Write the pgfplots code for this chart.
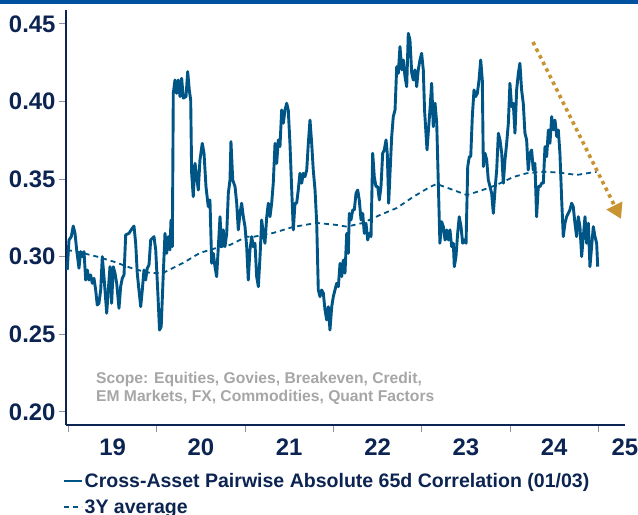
\documentclass[border=0pt]{standalone}
\usepackage{fontspec}
\setmainfont{Liberation Sans}
\usepackage{pgfplots}
\usepackage{pgfplotstable}
\pgfplotsset{compat=1.18}
\usetikzlibrary{arrows.meta}

\definecolor{lineblue}{RGB}{0,85,135}
\definecolor{navy}{RGB}{12,36,82}
\definecolor{topbar}{RGB}{0,82,160}
\definecolor{scopegray}{RGB}{166,166,166}
\definecolor{gold}{RGB}{200,148,50}
\definecolor{tickgray}{RGB}{140,145,160}

% Cross-asset pairwise absolute 65d correlation
\pgfplotstableread{
x y
2018.986 0.2915
2019.006 0.3108
2019.032 0.3130
2019.054 0.3198
2019.074 0.3151
2019.093 0.3044
2019.119 0.2926
2019.138 0.3033
2019.156 0.3001
2019.176 0.3033
2019.195 0.2850
2019.213 0.2915
2019.232 0.2850
2019.251 0.2883
2019.270 0.2829
2019.289 0.2861
2019.308 0.2786
2019.326 0.2689
2019.345 0.2700
2019.365 0.2786
2019.383 0.3001
2019.402 0.2872
2019.433 0.2636
2019.451 0.2786
2019.470 0.2936
2019.489 0.2700
2019.507 0.2936
2019.527 0.2894
2019.546 0.2829
2019.572 0.2668
2019.591 0.2808
2019.609 0.2861
2019.629 0.2883
2019.648 0.3141
2019.685 0.3151
2019.723 0.3184
2019.742 0.3198
2019.761 0.3087
2019.779 0.2894
2019.798 0.2786
2019.818 0.2678
2019.836 0.2786
2019.855 0.2915
2019.874 0.2850
2019.892 0.2926
2019.912 0.2947
2019.931 0.3108
2019.968 0.3130
2019.988 0.3044
2020.012 0.2767
2020.031 0.2528
2020.050 0.2550
2020.074 0.2894
2020.093 0.3151
2020.112 0.3022
2020.130 0.3130
2020.149 0.3044
2020.161 0.3237
2020.176 0.3065
2020.187 0.4053
2020.206 0.4139
2020.225 0.4053
2020.243 0.4139
2020.263 0.4032
2020.282 0.4150
2020.300 0.4022
2020.331 0.4032
2020.350 0.4193
2020.368 0.4075
2020.384 0.4010
2020.395 0.3538
2020.413 0.3387
2020.433 0.3602
2020.452 0.3516
2020.470 0.3430
2020.489 0.3624
2020.515 0.3731
2020.535 0.3667
2020.557 0.3452
2020.583 0.3323
2020.602 0.3366
2020.622 0.2958
2020.640 0.3022
2020.659 0.2936
2020.678 0.2872
2020.697 0.3065
2020.716 0.3258
2020.735 0.3065
2020.753 0.3173
2020.772 0.3065
2020.792 0.3151
2020.810 0.3409
2020.829 0.3495
2020.840 0.3742
2020.860 0.3495
2020.886 0.3452
2020.905 0.3345
2020.923 0.3173
2020.942 0.3280
2020.961 0.3345
2020.980 0.3258
2020.999 0.3194
2021.018 0.3065
2021.036 0.2850
2021.055 0.3044
2021.075 0.3130
2021.093 0.3065
2021.112 0.3087
2021.131 0.2872
2021.150 0.2807
2021.169 0.3001
2021.188 0.3237
2021.206 0.3151
2021.225 0.3087
2021.245 0.3258
2021.263 0.3345
2021.282 0.3258
2021.301 0.3345
2021.319 0.3474
2021.339 0.3731
2021.358 0.3602
2021.376 0.3753
2021.395 0.3710
2021.414 0.3946
2021.433 0.3860
2021.452 0.3946
2021.471 0.3989
2021.489 0.3946
2021.508 0.3731
2021.528 0.3430
2021.546 0.3173
2021.565 0.3345
2021.584 0.3345
2021.602 0.3430
2021.621 0.3538
2021.641 0.3474
2021.659 0.3538
2021.678 0.3516
2021.698 0.3559
2021.716 0.3731
2021.735 0.3881
2021.754 0.3731
2021.772 0.3559
2021.792 0.3430
2021.811 0.3216
2021.829 0.2786
2021.848 0.2743
2021.867 0.2786
2021.886 0.2765
2021.905 0.2657
2021.924 0.2593
2021.942 0.2678
2021.961 0.2528
2021.981 0.2678
2021.999 0.2743
2022.018 0.2786
2022.037 0.2829
2022.056 0.2807
2022.075 0.2958
2022.094 0.2872
2022.112 0.2979
2022.131 0.2894
2022.151 0.3151
2022.169 0.3022
2022.180 0.3280
2022.199 0.3237
2022.219 0.3302
2022.237 0.3302
2022.256 0.3409
2022.275 0.3430
2022.293 0.3366
2022.313 0.3237
2022.332 0.3280
2022.350 0.3151
2022.369 0.3216
2022.388 0.3108
2022.407 0.3151
2022.426 0.3130
2022.445 0.3667
2022.463 0.3516
2022.482 0.3452
2022.502 0.3452
2022.520 0.3366
2022.539 0.3452
2022.558 0.3667
2022.576 0.3688
2022.596 0.3753
2022.610 0.3667
2022.626 0.3345
2022.641 0.3538
2022.660 0.3774
2022.678 0.3903
2022.698 0.3946
2022.717 0.4225
2022.735 0.4182
2022.754 0.4354
2022.774 0.4204
2022.792 0.4268
2022.811 0.4160
2022.830 0.4096
2022.848 0.4440
2022.867 0.4397
2022.887 0.4182
2022.905 0.4139
2022.924 0.4204
2022.943 0.4096
2022.961 0.4204
2022.980 0.4268
2022.999 0.4311
2023.018 0.4204
2023.032 0.3946
2023.060 0.3688
2023.093 0.3946
2023.113 0.4118
2023.131 0.3838
2023.151 0.3989
2023.170 0.3860
2023.188 0.3474
2023.206 0.3087
2023.226 0.3226
2023.245 0.3194
2023.264 0.3108
2023.283 0.3173
2023.302 0.3108
2023.320 0.3173
2023.339 0.3065
2023.358 0.3087
2023.369 0.2936
2023.388 0.3001
2023.407 0.3151
2023.425 0.3258
2023.445 0.3194
2023.464 0.3087
2023.482 0.3108
2023.502 0.3087
2023.521 0.3581
2023.539 0.3645
2023.555 0.3645
2023.573 0.3903
2023.592 0.4075
2023.611 0.4032
2023.630 0.4053
2023.649 0.4139
2023.668 0.4268
2023.686 0.4139
2023.698 0.3581
2023.717 0.3667
2023.736 0.3624
2023.754 0.3495
2023.773 0.3452
2023.792 0.3409
2023.811 0.3280
2023.830 0.3430
2023.849 0.3559
2023.868 0.3796
2023.886 0.3753
2023.906 0.3667
2023.924 0.3474
2023.943 0.3624
2023.962 0.3731
2023.981 0.3860
2023.999 0.4118
2024.018 0.3967
2024.037 0.3989
2024.056 0.3796
2024.075 0.4075
2024.094 0.4182
2024.112 0.4247
2024.131 0.4075
2024.150 0.3989
2024.169 0.3796
2024.188 0.3753
2024.206 0.3559
2024.225 0.3667
2024.245 0.3688
2024.263 0.3559
2024.282 0.3602
2024.301 0.3258
2024.320 0.3452
2024.339 0.3452
2024.358 0.3474
2024.377 0.3474
2024.396 0.3710
2024.415 0.3645
2024.434 0.3817
2024.452 0.3731
2024.472 0.3903
2024.490 0.3817
2024.509 0.3881
2024.529 0.3774
2024.547 0.3817
2024.565 0.3667
2024.585 0.3366
2024.603 0.3130
2024.622 0.3216
2024.641 0.3258
2024.660 0.3280
2024.678 0.3302
2024.698 0.3345
2024.716 0.3323
2024.735 0.3216
2024.754 0.3130
2024.773 0.3258
2024.792 0.3194
2024.811 0.3001
2024.830 0.3130
2024.849 0.3258
2024.868 0.3087
2024.887 0.3216
2024.905 0.2936
2024.924 0.3065
2024.943 0.3194
2024.962 0.3130
2024.981 0.3087
2024.993 0.2936
}\corr

% 3Y average
\pgfplotstableread{
x y
2018.983 0.3044
2019.096 0.3033
2019.323 0.3001
2019.515 0.2968
2019.742 0.2921
2019.923 0.2896
2020.070 0.2896
2020.297 0.2960
2020.489 0.3025
2020.678 0.3057
2020.829 0.3076
2021.018 0.3130
2021.089 0.3128
2021.316 0.3153
2021.542 0.3192
2021.811 0.3218
2022.037 0.3205
2022.151 0.3194
2022.335 0.3218
2022.527 0.3269
2022.717 0.3314
2022.901 0.3385
2023.093 0.3450
2023.170 0.3469
2023.358 0.3430
2023.509 0.3398
2023.660 0.3424
2023.849 0.3463
2024.037 0.3514
2024.188 0.3538
2024.377 0.3548
2024.565 0.3542
2024.754 0.3527
2024.981 0.3548
}\avg

\begin{document}
\begin{tikzpicture}
\path[use as bounding box] (-66bp,-90bp) rectangle (572bp,425bp);
\fill[topbar] (-66bp,421bp) rectangle (572bp,425bp);
\begin{axis}[
    scale only axis, width=559bp, height=415bp,
    xmin=2018.972, xmax=2025.302, ymin=0.1916, ymax=0.459,
    axis lines*=left,
    axis line style={navy, line width=2bp},
    clip=false,
    ytick={0.20,0.25,0.30,0.35,0.40,0.45},
    xtick={2019,2020,2021,2022,2023,2024,2025},
    xticklabels={},
    extra x ticks={2019.5,2020.5,2021.5,2022.5,2023.5,2024.5,2025.3},
    extra x tick labels={19,20,21,22,23,24,25},
    extra x tick style={major tick length=0pt, xticklabel style={yshift=-10bp}},
    tick align=outside, major tick length=7bp,
    tick style={tickgray, line width=1bp},
    ticklabel style={font=\bfseries\fontsize{24}{28}\selectfont, text=navy},
    yticklabel style={/pgf/number format/.cd, fixed, fixed zerofill, precision=2, assume math mode=true},
    legend style={at={(axis description cs:-0.007,-0.112)}, anchor=north west,
        draw=none, fill=none, inner sep=0pt,
        font=\bfseries\fontsize{19.6}{22}\selectfont, text=navy,
        row sep=8bp, nodes={inner sep=1.5bp}},
    legend cell align=left,
    legend image code/.code={\draw[#1] (0bp,0bp) -- (18bp,0bp);},
]
\addplot[lineblue, line width=2.9bp, line join=round] table[x=x, y=y] {\corr};
\addlegendentry{Cross-Asset Pairwise Absolute 65d Correlation (01/03)}
\addplot[lineblue, line width=1.8bp, dash pattern=on 5bp off 4bp] table[x=x, y=y] {\avg};
\addlegendentry{3Y average}
\draw[gold, line width=3.6bp, dash pattern=on 3.6bp off 3.8bp,
      -{Triangle[length=15bp, width=17bp]}]
    (axis cs:2024.260,0.4384) -- (axis cs:2025.257,0.3244);
\end{axis}
\node[anchor=base west, inner sep=0pt, text=scopegray, font=\bfseries\fontsize{15.7}{18}\selectfont]
    at (30bp,41bp) {Scope: Equities, Govies, Breakeven, Credit,};
\node[anchor=base west, inner sep=0pt, text=scopegray, font=\bfseries\fontsize{15.7}{18}\selectfont]
    at (30bp,24bp) {EM Markets, FX, Commodities, Quant Factors};
\end{tikzpicture}
\end{document}
